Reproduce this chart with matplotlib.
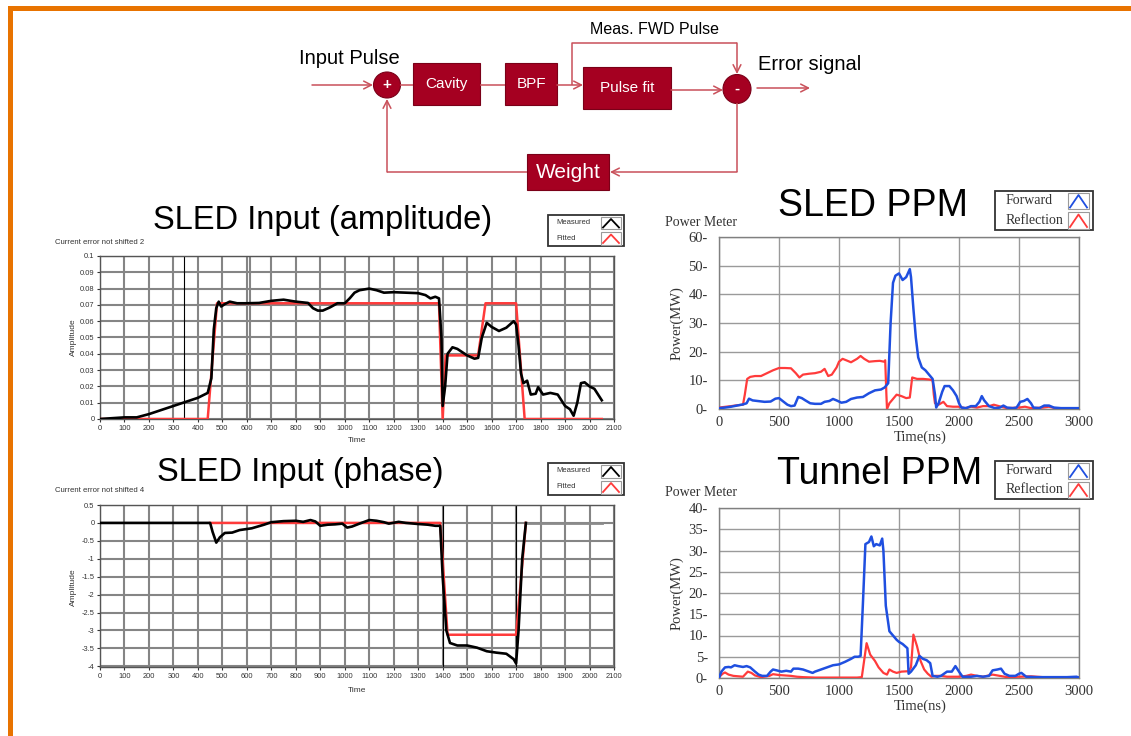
import matplotlib
matplotlib.use("Agg")
import matplotlib.pyplot as plt
from matplotlib.patches import Rectangle, Ellipse

# ---------------- data ----------------
# SLED input amplitude: measured and fitted
amp_meas_t = [0, 50, 100, 150, 200, 250, 300, 350, 400, 440, 455, 465, 475, 485, 495, 510, 530, 560,
              600, 650, 700, 750, 800, 850, 870, 890, 910, 940, 970, 1000, 1020, 1040, 1060, 1100,
              1130, 1160, 1200, 1250, 1300, 1330, 1350, 1370, 1385, 1395, 1400, 1410, 1420, 1440,
              1460, 1480, 1500, 1530, 1545, 1560, 1580, 1600, 1630, 1660, 1690, 1700, 1710, 1720,
              1730, 1745, 1760, 1780, 1790, 1810, 1840, 1870, 1900, 1920, 1935, 1950, 1965, 1980,
              2000, 2020, 2050]
amp_meas_v = [0.0, 0.0005, 0.001, 0.001, 0.003, 0.0055, 0.008, 0.0105, 0.013, 0.016, 0.025, 0.055,
              0.068, 0.072, 0.069, 0.0705, 0.072, 0.071, 0.071, 0.0712, 0.0725, 0.0732, 0.072,
              0.0712, 0.068, 0.0665, 0.0665, 0.0685, 0.071, 0.071, 0.074, 0.0775, 0.079, 0.080,
              0.079, 0.0775, 0.0778, 0.0775, 0.0772, 0.076, 0.074, 0.075, 0.074, 0.050, 0.008,
              0.020, 0.040, 0.044, 0.043, 0.041, 0.039, 0.037, 0.0375, 0.050, 0.059, 0.0565,
              0.054, 0.056, 0.060, 0.058, 0.045, 0.028, 0.022, 0.0235, 0.015, 0.0155, 0.0195,
              0.015, 0.016, 0.015, 0.008, 0.006, 0.002, 0.010, 0.022, 0.0225, 0.020, 0.0185, 0.0115]
amp_fit_t = [0, 440, 478, 1385, 1400, 1412, 1545, 1575, 1700, 1735, 2050]
amp_fit_v = [0.0, 0.0, 0.071, 0.071, 0.0, 0.039, 0.039, 0.071, 0.071, 0.0, 0.0]

# SLED input phase: measured and fitted
ph_meas_t = [0, 450, 460, 475, 490, 510, 540, 570, 620, 670, 700, 750, 800, 830, 860, 880, 900, 930,
             960, 990, 1010, 1030, 1060, 1100, 1130, 1160, 1180, 1220, 1250, 1300, 1340, 1370, 1390,
             1400, 1415, 1430, 1460, 1500, 1540, 1580, 1620, 1660, 1690, 1700, 1710, 1725, 1740]
ph_meas_v = [0.0, 0.0, -0.25, -0.55, -0.40, -0.28, -0.27, -0.20, -0.15, -0.05, 0.02, 0.05, 0.06,
             0.03, 0.08, 0.04, -0.08, -0.05, -0.04, -0.02, -0.13, -0.10, -0.02, 0.08, 0.06, 0.02,
             -0.02, 0.03, 0.0, -0.03, -0.05, -0.08, -0.08, -1.5, -3.0, -3.35, -3.42, -3.42, -3.48,
             -3.58, -3.62, -3.65, -3.8, -3.92, -3.0, -1.0, 0.0]
ph_tail_t = [1740, 2050]
ph_tail_v = [0.0, 0.0]
ph_fit_t = [450, 1390, 1420, 1700, 1740]
ph_fit_v = [0.0, 0.0, -3.12, -3.12, 0.0]

# SLED PPM (MW vs ns)
sled_fwd_t = [0, 50, 100, 150, 200, 230, 250, 280, 320, 380, 430, 470, 500, 530, 570, 600, 630, 660,
              690, 720, 760, 800, 850, 880, 920, 950, 980, 1020, 1060, 1100, 1150, 1200, 1250, 1300,
              1350, 1380, 1410, 1430, 1450, 1470, 1500, 1530, 1560, 1590, 1600, 1620, 1640, 1660,
              1690, 1720, 1750, 1780, 1800, 1810, 1830, 1860, 1880, 1920, 1950, 1980, 2000, 2020,
              2060, 2100, 2140, 2170, 2190, 2210, 2250, 2300, 2340, 2370, 2400, 2450, 2480, 2510,
              2540, 2570, 2600, 2620, 2670, 2710, 2750, 2790, 2850, 2900, 3000]
sled_fwd_v = [0.3, 0.5, 0.8, 1.2, 1.6, 2.0, 3.6, 3.0, 2.8, 2.5, 2.6, 3.6, 3.8, 2.8, 1.5, 1.0, 1.2,
              4.2, 3.8, 3.0, 2.0, 1.8, 1.8, 2.5, 2.8, 3.5, 3.0, 2.2, 2.5, 3.5, 4.0, 4.2, 5.5, 6.5,
              6.8, 7.5, 9.0, 30.0, 44.0, 46.5, 47.3, 45.0, 46.0, 48.8, 46.0, 35.0, 25.0, 18.0, 14.5,
              13.5, 12.0, 10.5, 5.0, 0.5, 2.0, 6.0, 8.0, 8.0, 6.5, 4.5, 2.0, 0.5, 0.3, 1.0, 1.0,
              2.5, 4.5, 3.0, 1.0, 0.3, 0.5, 1.2, 0.5, 0.3, 0.5, 2.5, 2.8, 3.5, 2.0, 0.5, 0.3, 1.2,
              1.2, 0.5, 0.3, 0.3, 0.3]
sled_ref_t = [0, 100, 150, 200, 215, 235, 260, 300, 350, 400, 450, 500, 550, 600, 640, 670, 700, 750,
              800, 850, 880, 910, 940, 980, 1000, 1030, 1060, 1100, 1150, 1180, 1210, 1250, 1300,
              1340, 1375, 1385, 1395, 1400, 1420, 1450, 1480, 1520, 1560, 1590, 1610, 1650, 1700,
              1750, 1780, 1790, 1800, 1830, 1870, 1900, 1950, 2000, 2050, 2100, 2150, 2200, 2250,
              2290, 2350, 2400, 2500, 2550, 2600, 2700, 2750, 2800, 2900, 3000]
sled_ref_v = [0.5, 1.0, 1.3, 1.5, 5.0, 10.5, 11.2, 11.5, 11.5, 12.5, 13.5, 14.3, 14.3, 14.2, 12.5,
              11.0, 12.0, 12.3, 12.5, 13.0, 14.0, 11.5, 12.0, 14.5, 16.5, 17.5, 17.0, 16.3, 17.5,
              18.5, 17.5, 16.5, 16.7, 16.8, 16.5, 17.0, 5.0, 0.0, 2.0, 3.5, 5.0, 4.5, 3.8, 4.0, 11.0,
              10.5, 10.5, 10.3, 10.0, 5.0, 2.0, 1.5, 2.5, 1.0, 0.8, 0.8, 0.3, 0.8, 0.5, 1.0, 1.0,
              1.5, 0.8, 0.3, 0.5, 0.8, 0.3, 0.5, 0.8, 0.3, 0.2, 0.2]

# Tunnel PPM (MW vs ns)
tun_fwd_t = [0, 20, 50, 80, 100, 130, 160, 200, 230, 260, 300, 330, 360, 400, 430, 450, 480, 520, 560,
             600, 620, 660, 700, 750, 780, 800, 850, 900, 950, 1000, 1050, 1100, 1130, 1160, 1180,
             1200, 1220, 1250, 1270, 1290, 1310, 1340, 1360, 1370, 1390, 1420, 1450, 1480, 1500,
             1530, 1570, 1580, 1600, 1640, 1670, 1700, 1730, 1760, 1780, 1820, 1850, 1900, 1940,
             1970, 2000, 2030, 2100, 2150, 2200, 2250, 2280, 2320, 2350, 2380, 2420, 2470, 2500,
             2520, 2560, 2650, 2800, 2900, 2980, 3000]
tun_fwd_v = [0.0, 1.5, 2.5, 2.6, 2.5, 3.0, 2.8, 2.6, 2.8, 2.5, 1.5, 0.8, 0.5, 0.5, 1.5, 2.0, 1.8,
             1.5, 1.7, 1.5, 2.2, 2.2, 2.0, 1.5, 1.2, 1.5, 2.0, 2.5, 3.0, 3.2, 3.8, 4.5, 5.0, 5.0,
             5.2, 18.0, 31.5, 32.0, 33.3, 31.0, 31.5, 31.2, 32.8, 30.0, 17.0, 11.0, 10.0, 9.0, 8.5,
             8.0, 7.0, 1.0, 1.5, 3.0, 5.2, 4.5, 4.2, 3.5, 0.5, 0.3, 0.5, 1.5, 1.5, 2.8, 1.5, 0.3,
             0.3, 0.5, 0.3, 0.5, 1.8, 2.0, 2.2, 1.0, 0.5, 0.5, 1.0, 1.2, 0.3, 0.2, 0.2, 0.2, 0.3, 0.1]
tun_ref_t = [0, 30, 50, 80, 120, 200, 240, 270, 300, 350, 420, 450, 500, 600, 650, 700, 800, 1000,
             1150, 1190, 1230, 1260, 1300, 1330, 1370, 1400, 1420, 1450, 1480, 1520, 1580, 1600,
             1620, 1650, 1680, 1710, 1740, 1770, 1800, 1850, 1900, 2000, 2060, 2100, 2150, 2200,
             2280, 2320, 2400, 2500, 2600, 2700, 2800, 3000]
tun_ref_v = [0.2, 1.0, 1.3, 0.8, 0.5, 0.3, 1.5, 1.2, 0.6, 0.2, 0.5, 0.9, 0.7, 0.5, 0.3, 0.2, 0.1,
             0.1, 0.1, 0.2, 8.2, 5.5, 4.0, 2.5, 1.2, 0.8, 2.0, 1.5, 1.2, 1.5, 1.6, 2.5, 10.2, 7.5,
             4.0, 2.0, 1.0, 0.3, 0.5, 0.5, 0.3, 0.3, 0.5, 0.8, 0.5, 0.3, 0.8, 0.6, 0.2, 0.3, 0.4,
             0.2, 0.1, 0.1]

# tick labels
lv_xticks = list(range(0, 2101, 100))
amp_yticks = [i / 100 for i in range(11)]
amp_ylabels = ["0"] + ["0.0%d" % i for i in range(1, 10)] + ["0.1"]
ph_yticks = [0.5 - 0.5 * i for i in range(10)]
ph_ylabels = ["0.5", "0", "-0.5", "-1", "-1.5", "-2", "-2.5", "-3", "-3.5", "-4"]
ppm_xticks = list(range(0, 3001, 500))
sled_yticks = list(range(0, 61, 10))
tun_yticks = list(range(0, 41, 5))

# ---------------- figure ----------------
W, H = 1131, 736
fig = plt.figure(figsize=(W / 100, H / 100), dpi=100)

SANS = "Liberation Sans"
SERIF = "Liberation Serif"
BOX = "#A50021"
WIRE = "#C9505A"
ORANGE = "#E87300"
BLUE = "#1F4FE0"
RED = "#FF3B3B"


def px_axes(x0, y0, x1, y1, **kw):
    return fig.add_axes([x0 / W, 1 - y1 / H, (x1 - x0) / W, (y1 - y0) / H], **kw)


ov = px_axes(0, 0, W, H, zorder=0)
ov.set_xlim(0, W)
ov.set_ylim(H, 0)
ov.axis("off")

# frame
ov.add_patch(Rectangle((8, 6), W - 8, 5, color=ORANGE, lw=0))
ov.add_patch(Rectangle((8, 6), 5, H - 6, color=ORANGE, lw=0))

# ---------------- block diagram ----------------
def wire(xs, ys):
    ov.plot(xs, ys, color=WIRE, lw=1.1, solid_capstyle="butt")


def arrow(x0, y0, x1, y1):
    ov.annotate("", xy=(x1, y1), xytext=(x0, y0),
                arrowprops=dict(arrowstyle="->,head_length=0.55,head_width=0.28",
                                color=WIRE, lw=1.1, shrinkA=0, shrinkB=0))


def block(x0, y0, x1, y1, label, size):
    ov.add_patch(Rectangle((x0, y0), x1 - x0, y1 - y0, facecolor=BOX,
                           edgecolor="#7a0018", lw=0.8))
    ov.text((x0 + x1) / 2, (y0 + y1) / 2, label, color="white", fontsize=size,
            family=SANS, ha="center", va="center")


def node(cx, cy, w, h, sym):
    ov.add_patch(Ellipse((cx, cy), w, h, facecolor=BOX, edgecolor="#7a0018", lw=0.8))
    ov.text(cx, cy, sym, color="white", fontsize=11, fontweight="bold",
            family=SANS, ha="center", va="center")


ov.text(349, 58, "Input Pulse", fontsize=14.5, family=SANS, ha="center", va="center")
arrow(312, 85, 373, 85)
node(387, 85, 27, 26, "+")
wire([400, 413], [85, 85])
block(413, 63, 480, 105, "Cavity", 11)
wire([480, 505], [85, 85])
block(505, 63, 557, 105, "BPF", 11)
arrow(557, 85, 583, 85)
block(583, 67, 671, 109, "Pulse fit", 11)
wire([572, 572, 737], [85, 43, 43])
arrow(737, 43, 737, 74)
ov.text(655, 30, "Meas. FWD Pulse", fontsize=11.5, family=SANS, ha="center", va="center")
arrow(671, 90, 723, 90)
node(737, 89, 28, 29, "-")
ov.text(758, 65, "Error signal", fontsize=14.5, family=SANS, ha="left", va="center")
arrow(757, 88, 810, 88)
wire([737, 737], [103, 172])
arrow(737, 172, 610, 172)
block(527, 154, 609, 190, "Weight", 15)
wire([527, 387], [172, 172])
arrow(387, 172, 387, 99)


# ---------------- legends ----------------
def legend_box(x0, y0, x1, y1, entries, size, family, icon_w, icon_x):
    ov.add_patch(Rectangle((x0, y0), x1 - x0, y1 - y0, facecolor="white",
                           edgecolor="#333333", lw=1.3))
    n = len(entries)
    rh = (y1 - y0) / n
    for i, (label, col) in enumerate(entries):
        ry = y0 + i * rh
        ov.text(x0 + 0.11 * (x1 - x0), ry + rh / 2, label, fontsize=size, family=family,
                ha="left", va="center", color="#333333")
        ov.add_patch(Rectangle((icon_x, ry + 1.5), icon_w, rh - 3, facecolor="white",
                               edgecolor="#9a9a9a", lw=0.8))
        ov.plot([icon_x + 2, icon_x + icon_w / 2, icon_x + icon_w - 2],
                [ry + rh - 3, ry + 4, ry + rh - 3], color=col, lw=1.3)


legend_box(548, 215, 624, 246, [("Measured", "black"), ("Fitted", RED)], 5.5, SANS, 20, 601)
legend_box(548, 463, 624, 495, [("Measured", "black"), ("Fitted", RED)], 5.5, SANS, 20, 601)
legend_box(995, 191, 1093, 230, [("Forward", BLUE), ("Reflection", RED)], 10, SERIF, 21, 1068)
legend_box(995, 461, 1093, 499, [("Forward", BLUE), ("Reflection", RED)], 10, SERIF, 21, 1068)

# ---------------- titles and captions ----------------
ov.text(323, 221, "SLED Input (amplitude)", fontsize=23.5, family=SANS, ha="center", va="center")
ov.text(300, 472, "SLED Input (phase)", fontsize=23.5, family=SANS, ha="center", va="center")
ov.text(873, 206, "SLED PPM", fontsize=27, family=SANS, ha="center", va="center")
ov.text(880, 474, "Tunnel PPM", fontsize=27, family=SANS, ha="center", va="center")
ov.text(55, 243, "Current error not shifted 2", fontsize=5.6, family=SANS, ha="left",
        va="center", color="#333333")
ov.text(55, 491, "Current error not shifted 4", fontsize=5.6, family=SANS, ha="left",
        va="center", color="#333333")
ov.text(665, 222, "Power Meter", fontsize=10, family=SERIF, ha="left", va="center",
        color="#333333")
ov.text(665, 492, "Power Meter", fontsize=10, family=SERIF, ha="left", va="center",
        color="#333333")


# ---------------- LabVIEW-style charts ----------------
def lv_axes(box, yticks, ylabels, ylim):
    ax = px_axes(*box, zorder=2)
    ax.set_xlim(0, 2100)
    ax.set_ylim(*ylim)
    ax.set_xticks(lv_xticks)
    ax.set_xticklabels([str(v) for v in lv_xticks])
    ax.set_yticks(yticks)
    ax.set_yticklabels(ylabels)
    ax.grid(True, color="#858585", lw=1.5)
    ax.set_axisbelow(True)
    ax.tick_params(labelsize=5.4, length=2.5, width=0.8, pad=1.5, colors="#333333")
    for lbl in ax.get_xticklabels() + ax.get_yticklabels():
        lbl.set_family(SANS)
    for s in ax.spines.values():
        s.set_color("#555555")
        s.set_linewidth(1.0)
    return ax


ax1 = lv_axes((100, 256, 614, 419), amp_yticks, amp_ylabels, (0, 0.1))
ax1.axvline(345, color="black", lw=0.8, zorder=1.5)
ax1.axvline(612, color="#858585", lw=1.5, zorder=1.5)
ax1.plot(amp_fit_t, amp_fit_v, color=RED, lw=1.8, zorder=3)
ax1.plot(amp_meas_t, amp_meas_v, color="black", lw=1.9, zorder=4)
ov.text(357, 441, "Time", fontsize=6, family=SANS, ha="center", va="center", color="#333333")
ov.text(73, 337, "Amplitude", fontsize=6, family=SANS, ha="center", va="center",
        rotation=90, color="#333333")

ax2 = lv_axes((100, 505, 614, 667), ph_yticks, ph_ylabels, (-4.02, 0.5))
ax2.axvline(1400, color="black", lw=0.8, zorder=1.5)
ax2.axvline(1700, color="black", lw=0.8, zorder=1.5)
ax2.plot(ph_fit_t, ph_fit_v, color=RED, lw=1.8, zorder=3)
ax2.plot(ph_tail_t, ph_tail_v, color="#8a8a8a", lw=2.0, zorder=3.5)
ax2.plot(ph_meas_t, ph_meas_v, color="black", lw=1.9, zorder=4)
ov.text(357, 690, "Time", fontsize=6, family=SANS, ha="center", va="center", color="#333333")
ov.text(73, 587, "Amplitude", fontsize=6, family=SANS, ha="center", va="center",
        rotation=90, color="#333333")


# ---------------- power meter charts ----------------
def ppm_axes(box, yticks):
    ax = px_axes(*box, zorder=2)
    ax.set_xlim(0, 3000)
    ax.set_ylim(yticks[0], yticks[-1])
    ax.set_xticks(ppm_xticks)
    ax.set_xticklabels([str(v) for v in ppm_xticks])
    ax.set_yticks(yticks)
    ax.set_yticklabels(["%d-" % v for v in yticks])
    ax.grid(True, color="#9a9a9a", lw=1.0)
    ax.set_axisbelow(True)
    ax.tick_params(labelsize=10.5, length=0, pad=5, colors="#333333")
    ax.tick_params(axis="y", pad=8)
    for lbl in ax.get_xticklabels() + ax.get_yticklabels():
        lbl.set_family(SERIF)
    for s in ax.spines.values():
        s.set_color("#808080")
        s.set_linewidth(1.0)
    return ax


ax3 = ppm_axes((719, 237, 1079, 409), sled_yticks)
ax3.plot(sled_ref_t, sled_ref_v, color=RED, lw=1.6, zorder=3)
ax3.plot(sled_fwd_t, sled_fwd_v, color=BLUE, lw=1.8, zorder=4)
ov.text(920, 437, "Time(ns)", fontsize=10.5, family=SERIF, ha="center", va="center",
        color="#333333")
ov.text(677, 323, "Power(MW)", fontsize=10.5, family=SERIF, ha="center", va="center",
        rotation=90, color="#333333")

ax4 = ppm_axes((719, 508, 1079, 678), tun_yticks)
ax4.plot(tun_ref_t, tun_ref_v, color=RED, lw=1.6, zorder=3)
ax4.plot(tun_fwd_t, tun_fwd_v, color=BLUE, lw=1.8, zorder=4)
ov.text(920, 706, "Time(ns)", fontsize=10.5, family=SERIF, ha="center", va="center",
        color="#333333")
ov.text(677, 593, "Power(MW)", fontsize=10.5, family=SERIF, ha="center", va="center",
        rotation=90, color="#333333")

fig.savefig("out.png", dpi=100)
